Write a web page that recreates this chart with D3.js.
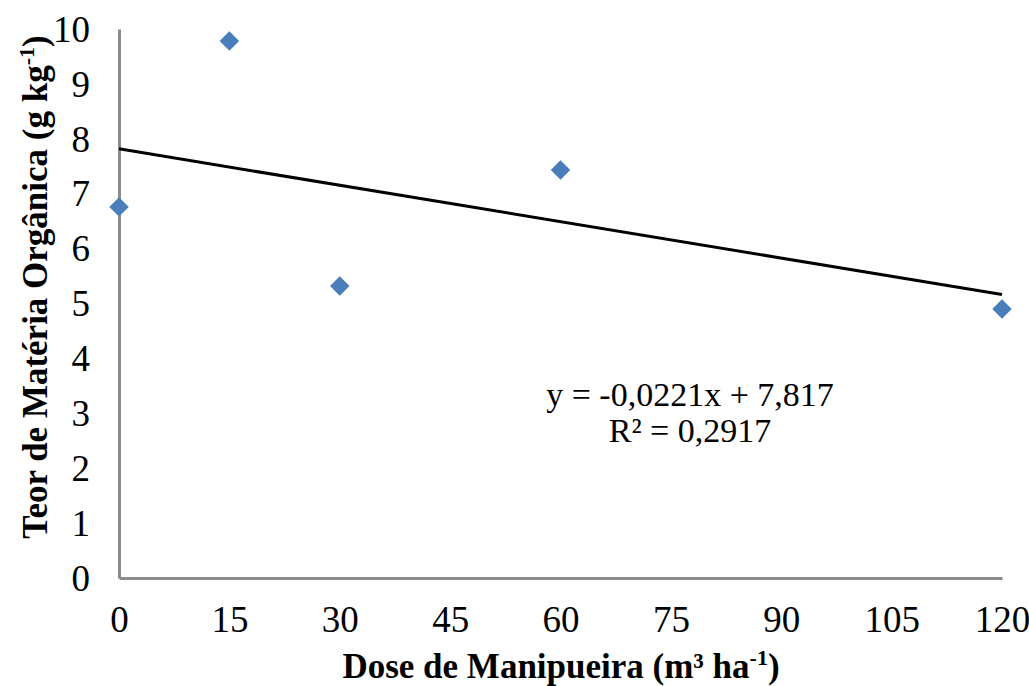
<!DOCTYPE html>
<html lang="pt">
<head>
<meta charset="UTF-8"/>
<title>Teor de Matéria Orgânica</title>
<script src="https://d3js.org/d3.v7.min.js"></script>
<style>
  body { margin: 0; background: #fff; }
</style>
</head>
<body>
<script>
    // data
    var doses = [0, 15, 30, 60, 120];
    var teor = [6.76, 9.78, 5.32, 7.43, 4.90];
    var xTicks = [0, 15, 30, 45, 60, 75, 90, 105, 120];
    var yTicks = [0, 1, 2, 3, 4, 5, 6, 7, 8, 9, 10];
    var slope = -0.0221;
    var intercept = 7.817;
    var eqLabel = "y = -0,0221x + 7,817";
    var r2Label = "R² = 0,2917";

    var w = 1029;
    var h = 686;
    var margin = { left: 119, right: 27, top: 29, bottom: 108 };
    var serif = "'Liberation Serif', 'Times New Roman', serif";

    var xScale = d3.scaleLinear()
        .domain([0, 120])
        .range([margin.left, w - margin.right]);

    var yScale = d3.scaleLinear()
        .domain([0, 10])
        .range([h - margin.bottom, margin.top]);

    var svg = d3.select("body")
        .append("svg")
        .attr("width", w)
        .attr("height", h)
        .style("font-family", serif);

    //axes lines, no tick marks
    var xAxis = svg.append("g")
        .attr("transform", "translate(0," + yScale(0) + ")")
        .call(d3.axisBottom(xScale).tickValues(xTicks).tickSize(0).tickPadding(28));
    var yAxis = svg.append("g")
        .attr("transform", "translate(" + xScale(0) + ",0)")
        .call(d3.axisLeft(yScale).tickValues(yTicks).tickSize(0).tickPadding(29));

    [xAxis, yAxis].forEach(function (ax) {
        ax.attr("font-family", null).attr("font-size", null);
        ax.select(".domain").attr("stroke", "#8c8c8c").attr("stroke-width", 3);
        ax.selectAll("text")
            .style("font-family", serif)
            .style("font-size", "37px")
            .attr("fill", "#000");
    });
    yAxis.selectAll("text").attr("dy", "0.33em");

    //trend line
    svg.append("line")
        .attr("x1", xScale(0))
        .attr("y1", yScale(intercept))
        .attr("x2", xScale(120))
        .attr("y2", yScale(intercept + slope * 120))
        .attr("stroke", "#000")
        .attr("stroke-width", 3);

    //diamond markers
    var diamond = d3.symbol().type(d3.symbolSquare).size(190);
    svg.selectAll("path.pt")
        .data(doses)
        .enter()
        .append("path")
        .attr("class", "pt")
        .attr("d", diamond)
        .attr("transform", function (d, i) {
            return "translate(" + xScale(d) + "," + yScale(teor[i]) + ") rotate(45)";
        })
        .attr("fill", "#4a7ebb");

    //equation
    svg.append("text")
        .attr("x", 690)
        .attr("y", 406)
        .attr("text-anchor", "middle")
        .style("font-size", "34px")
        .text(eqLabel);
    svg.append("text")
        .attr("x", 690)
        .attr("y", 442)
        .attr("text-anchor", "middle")
        .style("font-size", "34px")
        .text(r2Label);

    //axis titles
    var xt = svg.append("text")
        .attr("x", 561)
        .attr("y", 678)
        .attr("text-anchor", "middle")
        .style("font-size", "35px")
        .attr("font-weight", "bold");
    xt.append("tspan").text("Dose de Manipueira (m³ ha");
    xt.append("tspan").style("font-size", "22px").attr("dy", "-13").text("-1");
    xt.append("tspan").attr("dy", "13").text(")");

    var yt = svg.append("text")
        .attr("transform", "translate(47,287) rotate(-90)")
        .attr("text-anchor", "middle")
        .style("font-size", "35px")
        .attr("font-weight", "bold");
    yt.append("tspan").text("Teor de Matéria Orgânica (g kg");
    yt.append("tspan").style("font-size", "22px").attr("dy", "-13").text("-1");
    yt.append("tspan").attr("dy", "13").text(")");
</script>
</body>
</html>
